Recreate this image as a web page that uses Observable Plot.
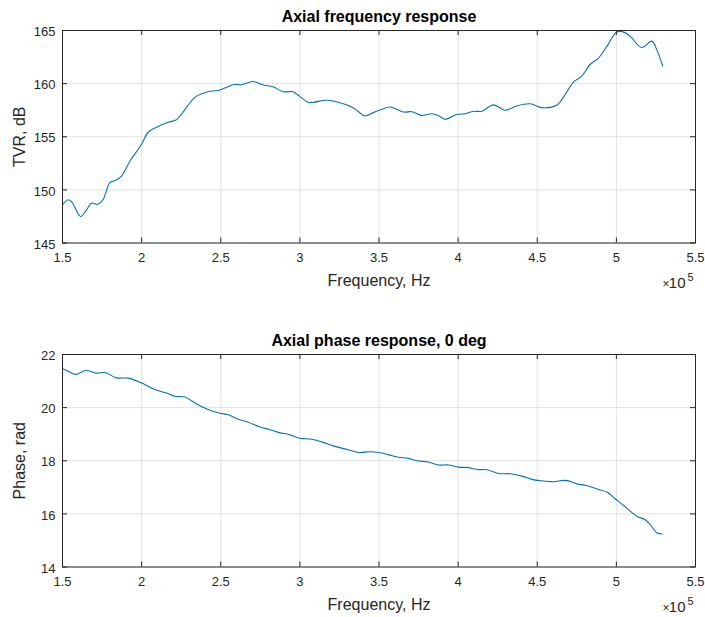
<!DOCTYPE html>
<html>
<head>
<meta charset="utf-8">
<script src="https://cdn.jsdelivr.net/npm/d3@7"></script>
<script src="https://cdn.jsdelivr.net/npm/@observablehq/plot@0.6"></script>
<style>
  html, body { margin: 0; padding: 0; background: #fff; }
  #chart { width: 705px; height: 617px; font-family: "Liberation Sans", Arial, sans-serif; }
  #chart svg { display: block; overflow: visible; }
</style>
</head>
<body>
<div id="chart"></div>
<script>
// ---- Data (frequency in Hz) ----
const tvrFreq = [150000,153600,155700,161400,164700,168300,172500,175700,180000,183000,187300,192600,200000,204000,209400,216800,222000,225000,233700,239000,244000,249000,258000,263000,270500,277000,283000,289500,295800,299000,305300,308500,316000,321000,327400,331700,335000,341200,346400,351700,357000,365400,370700,377000,383300,387500,391700,399100,404400,409700,415000,422300,429700,437000,445500,452900,462300,466500,472900,478100,483400,488700,494000,500300,505500,509700,516000,522400,525500,529300];
const tvr = [148.6,149.07,148.9,147.5,148.0,148.75,148.65,149.1,150.7,150.85,151.3,152.7,154.3,155.4,155.9,156.36,156.6,157.1,158.7,159.1,159.3,159.37,159.9,159.9,160.2,159.87,159.7,159.24,159.24,158.9,158.24,158.24,158.43,158.37,158.1,157.86,157.6,156.96,157.27,157.58,157.8,157.33,157.36,157.0,157.17,157.0,156.64,157.1,157.17,157.4,157.4,158.0,157.5,157.9,158.1,157.74,157.96,158.7,160.15,160.7,161.8,162.4,163.5,164.87,164.8,164.3,163.4,164.0,163.2,161.65];

const phaseFreq = [150000,153600,158400,164700,171500,176800,184000,191500,200000,208400,215700,221000,227300,234700,242000,249400,254700,262000,267400,274700,281000,287400,292600,300000,307400,313700,321100,329500,337000,344300,350700,355900,362300,368600,373800,381200,387500,393900,400200,406500,411800,418100,425500,432800,440200,448600,453900,460200,468200,475000,481300,488700,494000,499200,504500,512900,518200,521300,525500,529100];
const phase = [21.46,21.37,21.25,21.4,21.3,21.32,21.12,21.11,20.93,20.68,20.55,20.43,20.4,20.14,19.93,19.79,19.73,19.54,19.45,19.27,19.17,19.05,19.0,18.85,18.81,18.71,18.56,18.43,18.31,18.34,18.3,18.23,18.13,18.09,18.0,17.95,17.84,17.84,17.76,17.74,17.67,17.66,17.52,17.51,17.42,17.27,17.24,17.21,17.26,17.13,17.07,16.92,16.82,16.57,16.32,15.91,15.78,15.6,15.29,15.24];

// ---- Tick labels ----
const xTicks = [150000,200000,250000,300000,350000,400000,450000,500000,550000];
const tvrTicks = [145,150,155,160,165];
const phaseTicks = [14,16,18,20,22];

const titles = ["Axial frequency response", "Axial phase response, 0 deg"];
const yLabels = ["TVR, dB", "Phase, rad"];
const xLabel = "Frequency, Hz";
const xExpBase = "10";
const xExpPower = "5";

const INK = "#262626";
const FONT = "Liberation Sans, Arial, sans-serif";

function subplot({xs, ys, yDomain, yTicks, title, yLabel, height, marginTop, marginBottom}) {
  const marginLeft = 62, marginRight = 10;
  const frameH = height - marginTop - marginBottom;
  const frameW = 705 - marginLeft - marginRight;
  const data = xs.map((x, i) => ({x, y: ys[i]}));
  return Plot.plot({
    width: 705,
    height,
    marginLeft, marginRight, marginTop, marginBottom,
    style: {fontFamily: FONT, color: INK, background: "#fff", overflow: "visible"},
    x: {domain: [150000, 550000]},
    y: {domain: yDomain},
    marks: [
      Plot.ruleX(xTicks, {x: d => d, stroke: "#e2e2e2", strokeWidth: 1}),
      Plot.ruleY(yTicks, {y: d => d, stroke: "#e2e2e2", strokeWidth: 1}),
      Plot.line(data, {x: "x", y: "y", stroke: "#0072BD", strokeWidth: 1.1, curve: "catmull-rom"}),
      Plot.frame({stroke: INK, strokeWidth: 1}),
      Plot.tickX(xTicks, {x: d => d, stroke: INK, insetTop: frameH - 5}),
      Plot.tickX(xTicks, {x: d => d, stroke: INK, insetBottom: frameH - 5}),
      Plot.tickY(yTicks, {y: d => d, stroke: INK, insetRight: frameW - 5}),
      Plot.tickY(yTicks, {y: d => d, stroke: INK, insetLeft: frameW - 5}),
      Plot.axisX(xTicks, {tickSize: 0, tickPadding: 10, tickFormat: d => String(d / 1e5), fontSize: 13, fill: INK, label: null}),
      Plot.axisY(yTicks, {tickSize: 0, tickPadding: 7, tickFormat: d => String(d), fontSize: 13, fill: INK, label: null, dy: 1.5}),
      Plot.text([title], {frameAnchor: "top", dy: -9, lineAnchor: "bottom", fontSize: 16, fontWeight: "bold", fill: "#000"}),
      Plot.text([xLabel], {frameAnchor: "bottom", dy: 32, lineAnchor: "top", fontSize: 16, fill: INK}),
      Plot.text(["×"], {frameAnchor: "bottom-right", dx: -26, dy: 45, lineAnchor: "bottom", textAnchor: "end", fontSize: 12, fill: INK}),
      Plot.text([xExpBase], {frameAnchor: "bottom-right", dx: -10, dy: 45, lineAnchor: "bottom", textAnchor: "end", fontSize: 15, fill: INK}),
      Plot.text([xExpPower], {frameAnchor: "bottom-right", dx: -2, dy: 38, lineAnchor: "bottom", textAnchor: "end", fontSize: 11, fill: INK}),
      Plot.text([yLabel], {frameAnchor: "left", dx: -49, rotate: -90, lineAnchor: "top", textAnchor: "middle", fontSize: 16, fill: INK})
    ]
  });
}

const chart = document.getElementById("chart");
chart.append(subplot({xs: tvrFreq, ys: tvr, yDomain: [145, 165], yTicks: tvrTicks, title: titles[0], yLabel: yLabels[0], height: 310, marginTop: 30, marginBottom: 67.5}));
chart.append(subplot({xs: phaseFreq, ys: phase, yDomain: [14, 22], yTicks: phaseTicks, title: titles[1], yLabel: yLabels[1], height: 307, marginTop: 44, marginBottom: 50.5}));
</script>
</body>
</html>
